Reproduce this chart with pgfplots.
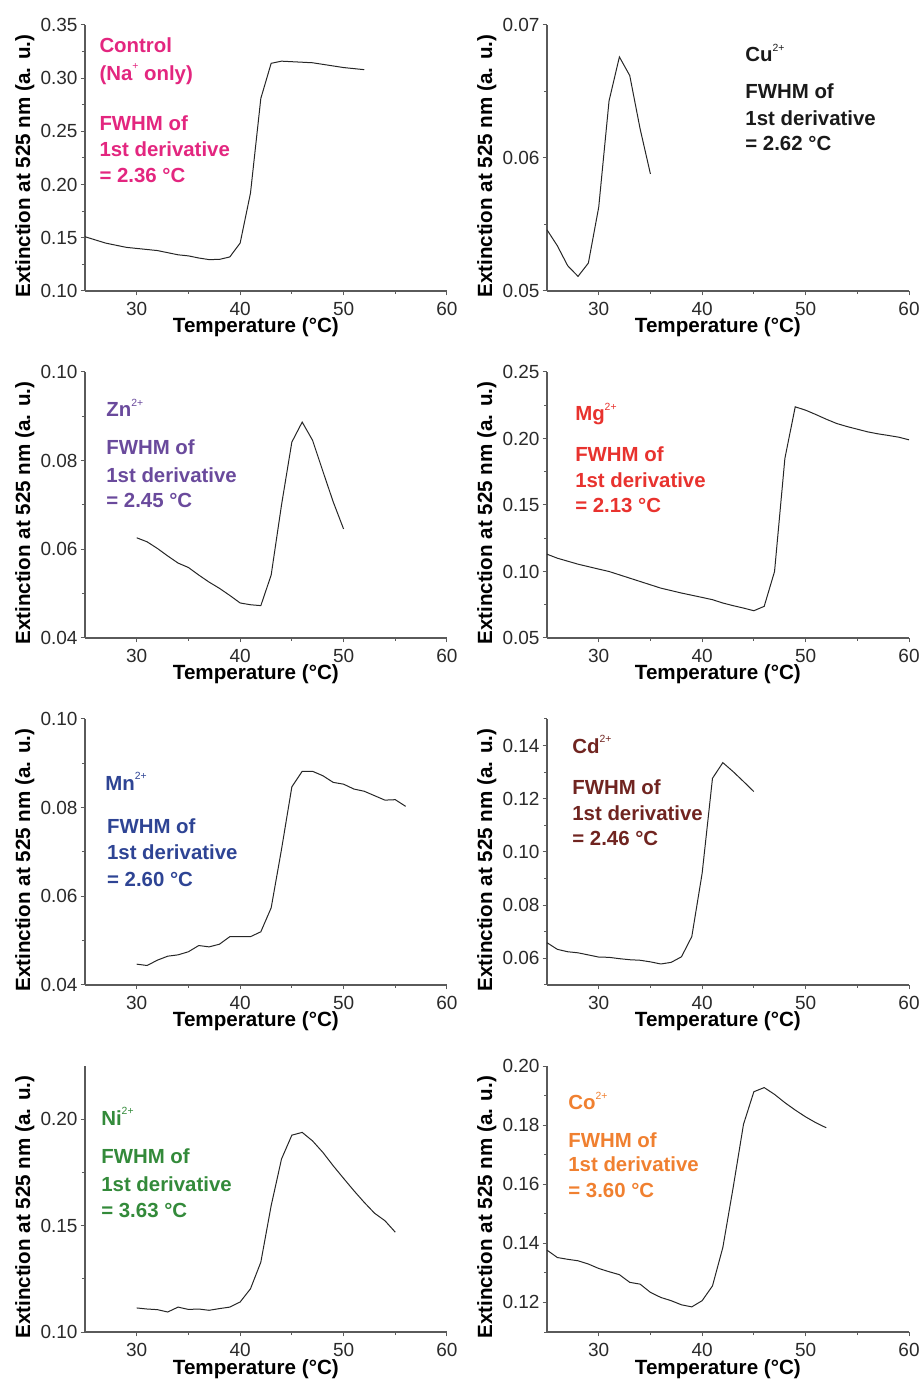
\documentclass[border=0pt]{standalone}
\usepackage{fontspec}
\setmainfont{Liberation Sans}
\usepackage{pgfplots}
\pgfplotsset{compat=1.18}

\definecolor{axisgray}{HTML}{5A5A5A}
\definecolor{tickgray}{HTML}{2A2A2A}
\definecolor{cctrl}{HTML}{E3267F}
\definecolor{ccu}{HTML}{1A1A1A}
\definecolor{czn}{HTML}{6A4A9C}
\definecolor{cmg}{HTML}{E8322E}
\definecolor{cmn}{HTML}{2E4494}
\definecolor{ccd}{HTML}{702420}
\definecolor{cni}{HTML}{338A3A}
\definecolor{cco}{HTML}{F08030}

% small charge superscript
\newcommand{\chg}[1]{\raisebox{5.2pt}{\fontsize{5.2}{6}\selectfont\mdseries #1}}

\tikzset{
  ann/.style={anchor=base west, inner sep=0pt, font=\bfseries\fontsize{10.2}{12}\selectfont},
}

\pgfplotsset{
  meltpanel/.style={
    scale only axis, width=181pt, height=133pt,
    xmin=25, xmax=60, xtick={30,40,50,60}, minor xtick={35,45,55},
    axis lines*=left,
    axis line style={draw=axisgray, line width=0.6pt},
    tick style={draw=axisgray, line width=0.5pt},
    tick align=outside, major tick length=2.2pt, minor tick length=1.5pt,
    tick label style={font=\fontsize{9.5}{10}\selectfont, text=tickgray},
    /pgf/number format/assume math mode=true,
    scaled y ticks=false,
    y tick label style={xshift=2pt, /pgf/number format/fixed, /pgf/number format/fixed zerofill, /pgf/number format/precision=2},
    xlabel={Temperature (°C)},
    ylabel={Extinction at 525 nm (a. u.)},
    label style={font=\bfseries\fontsize{10.3}{12}\selectfont, text=black},
    xlabel style={at={([yshift=-21pt]axis description cs:0.472,0)}, anchor=base},
    ylabel style={at={([xshift=-27.5pt]axis description cs:0,0.469)}, anchor=base},
    clip=false,
  },
  curve/.style={black!85, line width=0.5pt, mark=none},
}

\begin{document}
\begin{tikzpicture}

% ---------- Control (Na+ only)
\begin{axis}[meltpanel, at={(42.5pt,545.5pt)}, anchor=south west,
  ymin=0.10, ymax=0.35, ytick={0.10,0.15,0.20,0.25,0.30,0.35},
  minor ytick={0.125,0.175,0.225,0.275,0.325}]
\addplot[curve] coordinates {
 (25,0.151) (26,0.148) (27,0.145) (28,0.143) (29,0.141) (30,0.140)
 (31,0.139) (32,0.138) (33,0.136) (34,0.134) (35,0.133) (36,0.131)
 (37,0.1295) (38,0.1297) (39,0.132) (40,0.145) (41,0.192) (42,0.281)
 (43,0.314) (44,0.316) (45,0.3155) (46,0.315) (47,0.3145) (48,0.313)
 (49,0.3115) (50,0.310) (51,0.309) (52,0.308)};
\node[ann, text=cctrl] at (axis description cs:0.039,0.895) {Control};
\node[ann, text=cctrl] at (axis description cs:0.039,0.793) {(Na\chg{+} only)};
\node[ann, text=cctrl] at (axis description cs:0.039,0.602) {FWHM of};
\node[ann, text=cctrl] at (axis description cs:0.039,0.504) {1st derivative};
\node[ann, text=cctrl] at (axis description cs:0.039,0.406) {= 2.36 °C};
\end{axis}

% ---------- Cu2+
\begin{axis}[meltpanel, at={(273.5pt,545.5pt)}, anchor=south west,
  ymin=0.05, ymax=0.07, ytick={0.05,0.06,0.07},
  minor ytick={0.055,0.065}]
\addplot[curve] coordinates {
 (25,0.0546) (26,0.0534) (27,0.0519) (28,0.0511) (29,0.0521) (30,0.0563)
 (31,0.0643) (32,0.0676) (33,0.0662) (34,0.0622) (35,0.0588)};
\node[ann, text=ccu] at (axis description cs:0.547,0.861) {Cu\chg{2+}};
\node[ann, text=ccu] at (axis description cs:0.547,0.722) {FWHM of};
\node[ann, text=ccu] at (axis description cs:0.547,0.624) {1st derivative};
\node[ann, text=ccu] at (axis description cs:0.547,0.530) {= 2.62 °C};
\end{axis}

% ---------- Zn2+
\begin{axis}[meltpanel, at={(42.5pt,372pt)}, anchor=south west,
  ymin=0.04, ymax=0.10, ytick={0.04,0.06,0.08,0.10},
  minor ytick={0.05,0.07,0.09}]
\addplot[curve] coordinates {
 (30,0.0626) (31,0.0617) (32,0.0602) (33,0.0585) (34,0.0569) (35,0.0559)
 (36,0.0542) (37,0.0526) (38,0.0512) (39,0.0496) (40,0.0479) (41,0.0475)
 (42,0.0473) (43,0.0542) (44,0.0700) (45,0.0842) (46,0.0887) (47,0.0846)
 (48,0.0776) (49,0.0707) (50,0.0646)};
\node[ann, text=czn] at (axis description cs:0.058,0.831) {Zn\chg{2+}};
\node[ann, text=czn] at (axis description cs:0.058,0.688) {FWHM of};
\node[ann, text=czn] at (axis description cs:0.058,0.586) {1st derivative};
\node[ann, text=czn] at (axis description cs:0.058,0.489) {= 2.45 °C};
\end{axis}

% ---------- Mg2+
\begin{axis}[meltpanel, at={(273.5pt,372pt)}, anchor=south west,
  ymin=0.05, ymax=0.25, ytick={0.05,0.10,0.15,0.20,0.25},
  minor ytick={0.075,0.125,0.175,0.225}]
\addplot[curve] coordinates {
 (25,0.113) (26,0.110) (28,0.1055) (30,0.1018) (31,0.100) (32,0.0975)
 (34,0.0925) (36,0.0875) (38,0.0838) (40,0.0805) (41,0.0788) (42,0.0763)
 (43,0.0743) (44,0.0725) (45,0.0705) (46,0.0738) (47,0.100) (48,0.185)
 (49,0.2238) (50,0.2213) (51,0.218) (52,0.2145) (53,0.2113) (54,0.209)
 (55,0.207) (56,0.205) (57,0.2035) (58,0.2023) (59,0.201) (60,0.199)};
\node[ann, text=cmg] at (axis description cs:0.077,0.816) {Mg\chg{2+}};
\node[ann, text=cmg] at (axis description cs:0.077,0.662) {FWHM of};
\node[ann, text=cmg] at (axis description cs:0.077,0.564) {1st derivative};
\node[ann, text=cmg] at (axis description cs:0.077,0.470) {= 2.13 °C};
\end{axis}

% ---------- Mn2+
\begin{axis}[meltpanel, at={(42.5pt,198.5pt)}, anchor=south west,
  ymin=0.04, ymax=0.10, ytick={0.04,0.06,0.08,0.10},
  minor ytick={0.05,0.07,0.09}]
\addplot[curve] coordinates {
 (30,0.0447) (31,0.0444) (32,0.0456) (33,0.0465) (34,0.0468) (35,0.0475)
 (36,0.0489) (37,0.0486) (38,0.0492) (39,0.0509) (40,0.0509) (41,0.0509)
 (42,0.0520) (43,0.0574) (44,0.0706) (45,0.0847) (46,0.0882) (47,0.0882)
 (48,0.0872) (49,0.0857) (50,0.0853) (51,0.0842) (52,0.0837) (53,0.0827)
 (54,0.0817) (55,0.0818) (56,0.0803)};
\node[ann, text=cmn] at (axis description cs:0.055,0.733) {Mn\chg{2+}};
\node[ann, text=cmn] at (axis description cs:0.060,0.568) {FWHM of};
\node[ann, text=cmn] at (axis description cs:0.060,0.470) {1st derivative};
\node[ann, text=cmn] at (axis description cs:0.060,0.372) {= 2.60 °C};
\end{axis}

% ---------- Cd2+
\begin{axis}[meltpanel, at={(273.5pt,198.5pt)}, anchor=south west,
  ymin=0.05, ymax=0.15, ytick={0.06,0.08,0.10,0.12,0.14},
  minor ytick={0.05,0.07,0.09,0.11,0.13,0.15}]
\addplot[curve] coordinates {
 (25,0.0659) (26,0.0634) (27,0.0625) (28,0.0621) (29,0.0613) (30,0.0605)
 (31,0.0604) (32,0.0599) (33,0.0595) (34,0.0593) (35,0.0587) (36,0.0579)
 (37,0.0585) (38,0.0606) (39,0.0682) (40,0.0920) (41,0.1277) (42,0.1336)
 (43,0.1302) (44,0.1265) (45,0.1227)};
\node[ann, text=ccd] at (axis description cs:0.069,0.872) {Cd\chg{2+}};
\node[ann, text=ccd] at (axis description cs:0.069,0.718) {FWHM of};
\node[ann, text=ccd] at (axis description cs:0.069,0.620) {1st derivative};
\node[ann, text=ccd] at (axis description cs:0.069,0.523) {= 2.46 °C};
\end{axis}

% ---------- Ni2+
\begin{axis}[meltpanel, at={(42.5pt,25pt)}, anchor=south west,
  ymin=0.10, ymax=0.225, ytick={0.10,0.15,0.20},
  minor ytick={0.125,0.175}]
\addplot[curve] coordinates {
 (30,0.1113) (31,0.1108) (32,0.1105) (33,0.1094) (34,0.1117) (35,0.1106)
 (36,0.1108) (37,0.1102) (38,0.1110) (39,0.1117) (40,0.1141) (41,0.1203)
 (42,0.1328) (43,0.1594) (44,0.1813) (45,0.1925) (46,0.1938) (47,0.1898)
 (48,0.1844) (49,0.1781) (50,0.1722) (51,0.1664) (52,0.1609) (53,0.1558)
 (54,0.1523) (55,0.1469)};
\node[ann, text=cni] at (axis description cs:0.044,0.778) {Ni\chg{2+}};
\node[ann, text=cni] at (axis description cs:0.044,0.632) {FWHM of};
\node[ann, text=cni] at (axis description cs:0.044,0.530) {1st derivative};
\node[ann, text=cni] at (axis description cs:0.044,0.432) {= 3.63 °C};
\end{axis}

% ---------- Co2+
\begin{axis}[meltpanel, at={(273.5pt,25pt)}, anchor=south west,
  ymin=0.11, ymax=0.20, ytick={0.12,0.14,0.16,0.18,0.20},
  minor ytick={0.11,0.13,0.15,0.17,0.19}]
\addplot[curve] coordinates {
 (25,0.1377) (26,0.1352) (27,0.1346) (28,0.1341) (29,0.1330) (30,0.1315)
 (31,0.1304) (32,0.1294) (33,0.1268) (34,0.1262) (35,0.1234) (36,0.1217)
 (37,0.1206) (38,0.1192) (39,0.1185) (40,0.1206) (41,0.1256) (42,0.1386)
 (43,0.1589) (44,0.1803) (45,0.1913) (46,0.1927) (47,0.1904) (48,0.1876)
 (49,0.1851) (50,0.1828) (51,0.1808) (52,0.1791)};
\node[ann, text=cco] at (axis description cs:0.058,0.835) {Co\chg{2+}};
\node[ann, text=cco] at (axis description cs:0.058,0.695) {FWHM of};
\node[ann, text=cco] at (axis description cs:0.058,0.602) {1st derivative};
\node[ann, text=cco] at (axis description cs:0.058,0.504) {= 3.60 °C};
\end{axis}

\pgfresetboundingbox
\path (0pt,0pt) rectangle (460pt,691pt);
\end{tikzpicture}
\end{document}
